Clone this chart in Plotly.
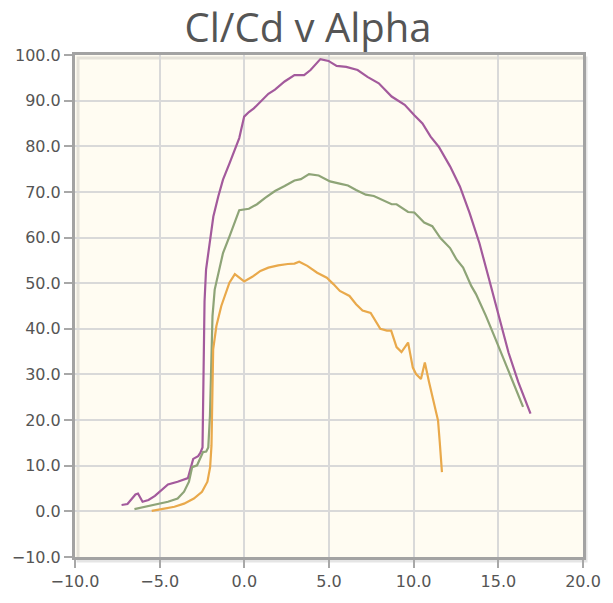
import plotly.graph_objects as go

purple_x = [-7.25, -6.9, -6.43, -6.28, -6.01, -5.66, -5.28, -4.8, -4.51, -3.94, -3.33, -3.02, -2.73, -2.6, -2.47,
            -2.35, -2.26, -2.02, -1.83, -1.54, -1.26, -0.87, -0.49, -0.3, -0.01, 0.27, 0.56, 1.04, 1.42, 1.81,
            2.38, 2.96, 3.53, 3.91, 4.49, 4.97, 5.45, 6.02, 6.69, 7.27, 7.94, 8.7, 9.47, 10.04, 10.52, 11.0,
            11.48, 12.15, 12.73, 13.3, 13.88, 14.45, 15.03, 15.6, 16.18, 16.9]
purple_y = [1.4, 1.6, 3.7, 3.9, 2.1, 2.5, 3.4, 5.0, 5.9, 6.5, 7.3, 11.5, 12.1, 12.8, 14.0,
            46.0, 53.0, 59.5, 64.6, 69.0, 72.7, 76.3, 79.9, 81.8, 86.5, 87.5, 88.3, 90.1, 91.5, 92.4,
            94.2, 95.6, 95.6, 96.7, 99.1, 98.7, 97.6, 97.4, 96.7, 95.2, 93.8, 90.9, 89.1, 86.8, 85.0, 82.1,
            79.9, 75.6, 71.2, 65.4, 58.8, 50.9, 42.9, 34.8, 28.3, 21.4]

green_x = [-6.49, -5.86, -5.28, -4.51, -3.94, -3.56, -3.27, -3.08, -2.79, -2.6, -2.44, -2.25, -2.13, -2.03,
           -1.88, -1.75, -1.46, -1.26, -0.87, -0.3, 0.27, 0.75, 1.23, 1.81, 2.38, 2.96, 3.34, 3.82, 4.39,
           5.06, 5.63, 6.12, 6.6, 7.17, 7.65, 8.13, 8.7, 8.99, 9.67, 10.04, 10.62, 11.1, 11.58, 12.15, 12.53,
           12.92, 13.4, 13.68, 14.26, 14.83, 15.41, 15.98, 16.46]
green_y = [0.5, 1.0, 1.5, 2.1, 2.8, 4.3, 6.5, 9.7, 10.1, 11.5, 13.0, 13.1, 14.0, 21.0,
           42.8, 48.6, 53.0, 56.6, 60.3, 66.0, 66.3, 67.3, 68.7, 70.2, 71.3, 72.5, 72.8, 73.9, 73.6,
           72.3, 71.8, 71.4, 70.4, 69.4, 69.1, 68.3, 67.3, 67.3, 65.6, 65.5, 63.3, 62.5, 59.9, 57.7, 55.2,
           53.4, 49.4, 47.6, 42.9, 37.8, 32.6, 27.6, 22.9]

orange_x = [-5.47, -4.9, -4.13, -3.56, -2.98, -2.5, -2.18, -2.02, -1.94, -1.84, -1.65, -1.36, -0.88, -0.56,
            -0.01, 0.47, 0.95, 1.42, 2.0, 2.57, 2.96, 3.24, 3.72, 4.3, 4.87, 5.26, 5.64, 6.21, 6.6, 6.98,
            7.46, 8.03, 8.42, 8.67, 8.99, 9.28, 9.67, 9.95, 10.14, 10.43, 10.66, 10.91, 11.19, 11.44, 11.54, 11.67]
orange_y = [0.1, 0.5, 1.0, 1.7, 2.8, 4.3, 6.5, 9.7, 14.4, 35.5, 40.6, 45.0, 50.1, 52.0,
            50.4, 51.4, 52.7, 53.4, 53.9, 54.2, 54.3, 54.7, 53.8, 52.3, 51.2, 49.8, 48.3, 47.2, 45.4, 44.0,
            43.5, 40.0, 39.6, 39.6, 36.0, 34.9, 37.0, 31.5, 30.1, 29.0, 32.6, 28.3, 23.9, 19.9, 15.2, 8.6]

x_range = [-10, 20]
y_range = [-10, 100]

fig = go.Figure()
for xs, ys, col in [(purple_x, purple_y, "#a35a9c"), (green_x, green_y, "#8ea477"), (orange_x, orange_y, "#e9a94b")]:
    fig.add_trace(go.Scatter(x=xs, y=ys, mode="lines", line=dict(color=col, width=2.2), showlegend=False,
                             hoverinfo="x+y"))

# soft shadow of plot border
fig.add_shape(type="rect", xref="paper", yref="paper", x0=0.006, y0=-0.008, x1=1.006, y1=0.994,
              line=dict(color="rgba(0,0,0,0.10)", width=3), layer="below")

fig.update_layout(
    width=613, height=603,
    margin=dict(l=71, r=21, t=55, b=45),
    paper_bgcolor="white",
    plot_bgcolor="#fffcf2",
    title=dict(text="Cl/Cd v Alpha", x=0.5025, xref="container", xanchor="center", y=0.953, yanchor="middle",
               font=dict(family="Open Sans", size=40, color="#555555")),
    font=dict(family="DejaVu Sans", size=16, color="#555555"),
)
axis_common = dict(showgrid=True, gridcolor="#d9d9d9", gridwidth=1.5, zeroline=False,
                   showline=True, linecolor="#a3a3a3", linewidth=3, mirror=True,
                   ticks="outside", ticklen=8, tickcolor="#a8a8a8", tickwidth=2,
                   tickformat=".1f", tickfont=dict(family="DejaVu Sans", size=16, color="#555555"))
fig.update_xaxes(range=x_range, dtick=5, tick0=-10, **axis_common)
fig.update_yaxes(range=y_range, dtick=10, tick0=-10, **axis_common)

fig.write_html("out.html")
